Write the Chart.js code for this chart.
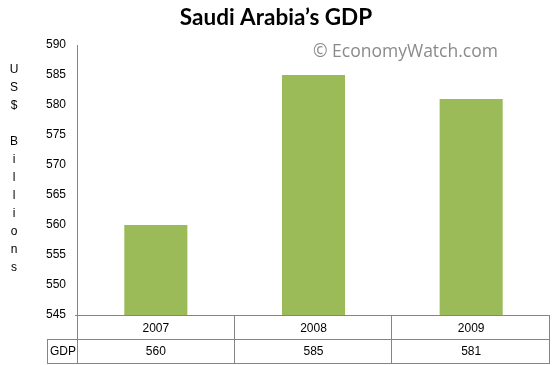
<!DOCTYPE html>
<html><head><meta charset="utf-8">
<script src="https://cdn.jsdelivr.net/npm/chart.js@4"></script>
<style>html,body{margin:0;padding:0;background:#fff}#w{width:556px;height:365px}</style>
</head><body><div id="w"><canvas id="c" width="556" height="365"></canvas></div>
<script>
const categories = ['2007', '2008', '2009'];
const gdpValues = [560, 585, 581];
const seriesName = 'GDP';
const yMin = 545, yMax = 590, yStep = 5;
const titleText = 'Saudi Arabia\u2019s GDP';
const creditText = '\u00A9 EconomyWatch.com';
const yTitle = 'US$ Billions';

const LINE = '#858585';
const tablePlugin = {
  id: 'tablePlugin',
  afterDraw(chart) {
    const ctx = chart.ctx, x = chart.scales.x, y = chart.scales.y;
    const ca = chart.chartArea;
    const row1Top = ca.bottom, row2Top = ca.bottom + 24, row2Bot = chart.height - 2;
    const left = ca.left, right = ca.right, keyLeft = 47;
    ctx.save();
    ctx.strokeStyle = LINE; ctx.lineWidth = 1;
    ctx.beginPath();
    ctx.moveTo(left - 2, row1Top + 0.5); ctx.lineTo(right, row1Top + 0.5);
    ctx.moveTo(keyLeft, row2Top + 0.5); ctx.lineTo(right, row2Top + 0.5);
    ctx.moveTo(keyLeft, row2Bot + 0.5); ctx.lineTo(right, row2Bot + 0.5);
    ctx.moveTo(keyLeft + 0.5, row2Top); ctx.lineTo(keyLeft + 0.5, row2Bot + 1);
    ctx.moveTo(left + 0.5, row1Top); ctx.lineTo(left + 0.5, row2Bot + 1);
    for (let i = 0; i < categories.length; i++) {
      const px = Math.round(x.getPixelForValue(i) + (x.getPixelForValue(1) - x.getPixelForValue(0)) / 2);
      ctx.moveTo(px - 0.5, row1Top); ctx.lineTo(px - 0.5, row2Bot + 1);
    }
    ctx.stroke();
    ctx.fillStyle = '#000';
    ctx.font = '12px "Liberation Sans", Arial, sans-serif';
    ctx.textAlign = 'center'; ctx.textBaseline = 'middle';
    gdpValues.forEach((v, i) => ctx.fillText(String(v), x.getPixelForValue(i), (row2Top + row2Bot) / 2 + 1));
    ctx.textAlign = 'left';
    ctx.fillText(seriesName, keyLeft + 3, (row2Top + row2Bot) / 2 + 1);
    ctx.font = 'bold 22.5px Lato, sans-serif';
    ctx.textAlign = 'center'; ctx.textBaseline = 'alphabetic';
    ctx.fillText(titleText, 276, 25);
    ctx.font = '17.5px "Open Sans", sans-serif';
    ctx.fillStyle = '#8a8a8a';
    ctx.textAlign = 'left';
    ctx.fillText(creditText, 313, 57);
    ctx.fillStyle = '#000';
    ctx.font = '12px "Liberation Sans", Arial, sans-serif';
    ctx.textAlign = 'center'; ctx.textBaseline = 'middle';
    [...yTitle].forEach((ch, i) => { if (ch !== ' ') ctx.fillText(ch, 14, 70 + i * 18); });
    ctx.restore();
  }
};

new Chart(document.getElementById('c'), {
  type: 'bar',
  data: {
    labels: categories,
    datasets: [{ label: seriesName, data: gdpValues, backgroundColor: '#9BBB59', barPercentage: 0.4, categoryPercentage: 1.0 }]
  },
  options: {
    responsive: false, animation: false,
    layout: { padding: { top: 45, right: 6, bottom: 2, left: 0 } },
    plugins: { legend: { display: false }, tooltip: { enabled: false } },
    scales: {
      x: {
        grid: { display: false, drawTicks: false },
        border: { display: false },
        ticks: { color: '#000', font: { family: '"Liberation Sans", Arial, sans-serif', size: 12 }, padding: 6 },
        afterFit(s) { s.height = 48; }
      },
      y: {
        min: yMin, max: yMax,
        grid: { display: false, drawTicks: false },
        border: { display: true, color: LINE },
        ticks: { stepSize: yStep, color: '#000', font: { family: '"Liberation Sans", Arial, sans-serif', size: 12 }, padding: 11 },
        afterFit(s) { s.width = 77; }
      }
    }
  },
  plugins: [tablePlugin]
});
</script>
</body></html>
